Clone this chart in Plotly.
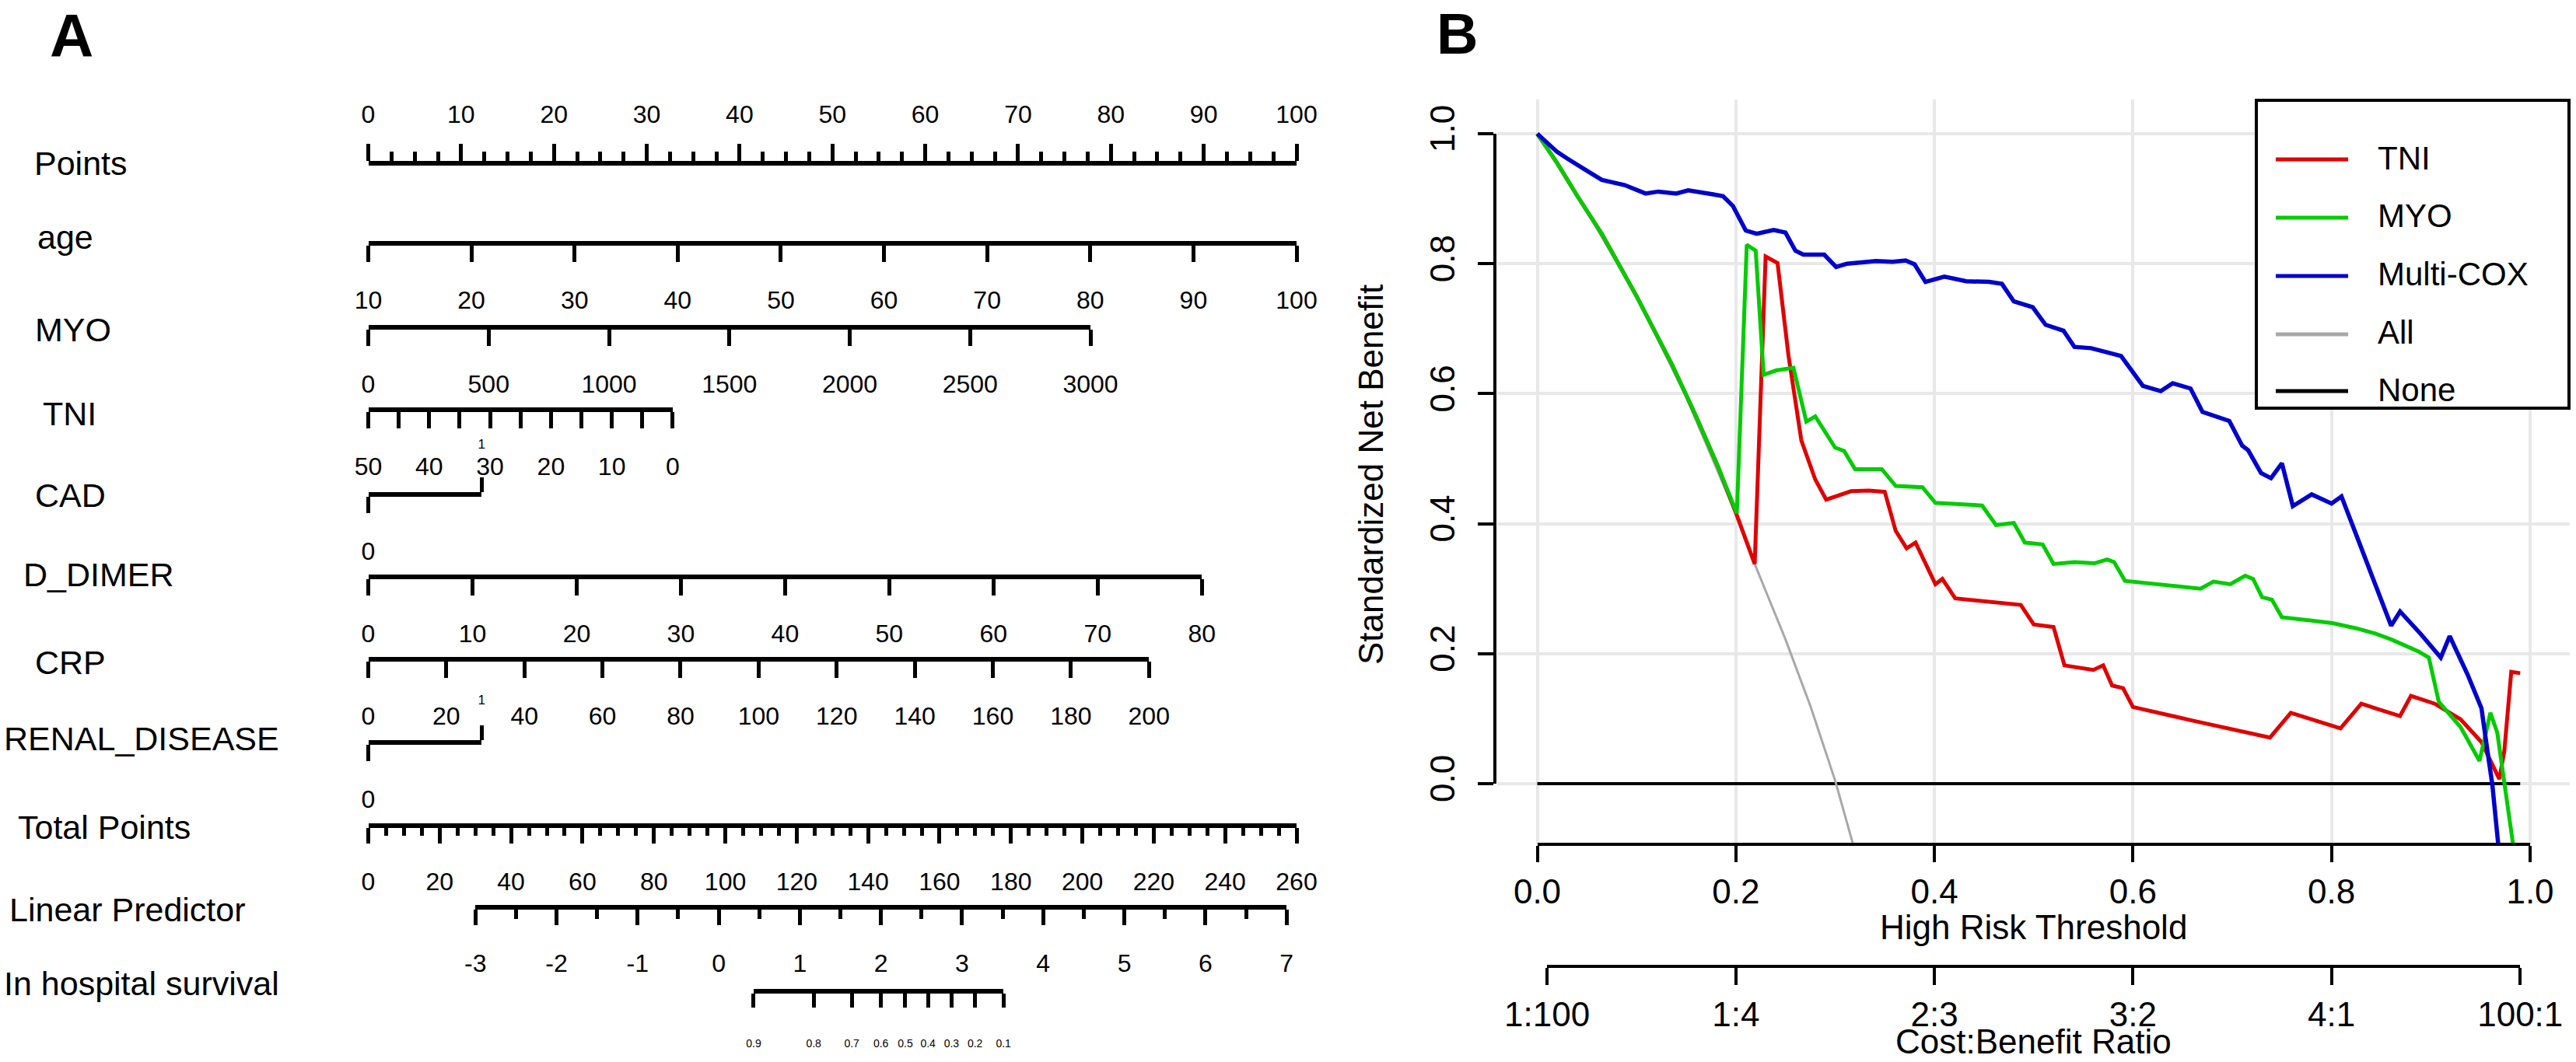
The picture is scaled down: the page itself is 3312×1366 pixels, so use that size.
#%% Nomogram (A) and standardized decision curves (B) for in hospital survival
import plotly.graph_objects as go

W, H = 3312, 1366
FONT = 'Liberation Sans, Arial, sans-serif'

#%% Panel A data: nomogram scales
points_ticks = [0, 10, 20, 30, 40, 50, 60, 70, 80, 90, 100]
age_ticks = [10, 20, 30, 40, 50, 60, 70, 80, 90, 100]
myo_ticks = [0, 500, 1000, 1500, 2000, 2500, 3000]
tni_ticks = [50, 40, 30, 20, 10, 0]
cad_levels = [0, 1]
ddimer_ticks = [0, 10, 20, 30, 40, 50, 60, 70, 80]
crp_ticks = [0, 20, 40, 60, 80, 100, 120, 140, 160, 180, 200]
renal_levels = [0, 1]
total_ticks = [0, 20, 40, 60, 80, 100, 120, 140, 160, 180, 200, 220, 240, 260]
lp_ticks = [-3, -2, -1, 0, 1, 2, 3, 4, 5, 6, 7]
surv_labels = ['0.9', '0.8', '0.7', '0.6', '0.5', '0.4', '0.3', '0.2', '0.1']
surv_at_lp = [0.43, 1.17, 1.64, 2.0, 2.3, 2.58, 2.87, 3.16, 3.51]

# points reached at the top end of each predictor scale
age_pts, myo_pts, tni_pts, cad_pts = 100, 77.8, 32.8, 12.2
ddimer_pts, crp_pts, renal_pts = 89.8, 84.1, 12.2
lp_at_total = [30, 257.2]   # total points where linear predictor = -3 and 7

#%% Panel B data: decision curves
thr_tni = [0, 0.02, 0.04, 0.065, 0.1, 0.136, 0.16, 0.182, 0.201, 0.219,
           0.230, 0.242, 0.253, 0.266, 0.280, 0.291, 0.316, 0.334, 0.350, 0.361,
           0.372, 0.381, 0.401, 0.408, 0.421, 0.451, 0.487, 0.500, 0.520, 0.531,
           0.560, 0.570, 0.579, 0.590, 0.600, 0.660, 0.738, 0.759, 0.809, 0.830,
           0.869, 0.880, 0.904, 0.930, 0.951, 0.969, 0.974, 0.981, 0.990]
nb_tni = [1.0, 0.955, 0.905, 0.846, 0.75, 0.644, 0.565, 0.488, 0.413, 0.338,
          0.811, 0.801, 0.659, 0.528, 0.468, 0.437, 0.450, 0.451, 0.449, 0.389,
          0.362, 0.371, 0.307, 0.315, 0.285, 0.281, 0.275, 0.245, 0.241, 0.182,
          0.175, 0.182, 0.151, 0.147, 0.118, 0.097, 0.071, 0.109, 0.085, 0.123,
          0.104, 0.135, 0.123, 0.099, 0.064, 0.007, 0.050, 0.172, 0.170]

thr_myo = [0, 0.02, 0.04, 0.065, 0.1, 0.136, 0.16, 0.182, 0.201, 0.211,
           0.220, 0.228, 0.241, 0.258, 0.271, 0.280, 0.300, 0.309, 0.320, 0.347,
           0.361, 0.388, 0.401, 0.448, 0.462, 0.480, 0.491, 0.509, 0.520, 0.541,
           0.561, 0.574, 0.581, 0.592, 0.668, 0.681, 0.698, 0.713, 0.721, 0.730,
           0.740, 0.750, 0.780, 0.801, 0.825, 0.844, 0.860, 0.873, 0.888, 0.898,
           0.908, 0.930, 0.949, 0.960, 0.967, 0.974, 0.983]
nb_myo = [1.0, 0.955, 0.905, 0.846, 0.75, 0.644, 0.565, 0.488, 0.416, 0.829,
          0.820, 0.629, 0.636, 0.640, 0.557, 0.565, 0.517, 0.512, 0.484, 0.484,
          0.458, 0.456, 0.432, 0.428, 0.398, 0.401, 0.371, 0.368, 0.338, 0.341,
          0.339, 0.345, 0.341, 0.312, 0.300, 0.311, 0.307, 0.320, 0.315, 0.287,
          0.283, 0.256, 0.251, 0.247, 0.239, 0.231, 0.222, 0.213, 0.203, 0.194,
          0.126, 0.087, 0.035, 0.109, 0.078, 0.002, -0.095]

thr_cox = [0, 0.01, 0.02, 0.03, 0.04, 0.05, 0.065, 0.088, 0.109, 0.122,
           0.140, 0.152, 0.176, 0.187, 0.197, 0.210, 0.221, 0.238, 0.250, 0.260,
           0.268, 0.289, 0.301, 0.312, 0.341, 0.358, 0.371, 0.380, 0.391, 0.410,
           0.432, 0.455, 0.468, 0.480, 0.499, 0.512, 0.530, 0.541, 0.558, 0.588,
           0.610, 0.628, 0.640, 0.658, 0.670, 0.697, 0.710, 0.716, 0.729, 0.739,
           0.750, 0.761, 0.780, 0.800, 0.810, 0.860, 0.869, 0.890, 0.910, 0.919,
           0.937, 0.951, 0.958, 0.962, 0.968]
nb_cox = [1.0, 0.985, 0.972, 0.962, 0.952, 0.943, 0.929, 0.921, 0.908, 0.911,
          0.908, 0.913, 0.907, 0.904, 0.889, 0.851, 0.846, 0.852, 0.848, 0.820,
          0.814, 0.814, 0.795, 0.800, 0.804, 0.803, 0.805, 0.799, 0.772, 0.780,
          0.773, 0.772, 0.769, 0.742, 0.733, 0.706, 0.697, 0.672, 0.670, 0.658,
          0.612, 0.604, 0.616, 0.608, 0.572, 0.558, 0.520, 0.513, 0.478, 0.470,
          0.493, 0.427, 0.445, 0.431, 0.442, 0.243, 0.265, 0.230, 0.194, 0.227,
          0.168, 0.116, 0.040, -0.002, -0.095]

thr_all = [0, 0.05, 0.1, 0.15, 0.2, 0.219, 0.25, 0.275, 0.30, 0.318]
nb_all = [1.0, 0.88, 0.75, 0.595, 0.415, 0.338, 0.222, 0.12, 0.005, -0.093]

thr_none = [0, 0.99]
nb_none = [0, 0]

grid_ticks = [0, 0.2, 0.4, 0.6, 0.8, 1.0]
cb_thresholds = [0.0099, 0.2, 0.4, 0.6, 0.8, 0.99]
cb_labels = ['1:100', '1:4', '2:3', '3:2', '4:1', '100:1']

curve_names = ['TNI', 'MYO', 'Multi-COX', 'All', 'None']
curve_colors = ['#e00000', '#00cc00', '#0000cd', '#a8a8a8', '#000000']

#%% helpers
fig = go.Figure()


def row_y(py):
    return 1 - py / H


PX0, PX1 = 473.5, 1667   # pixel span of the 0..100 points scale


def pts_x(p):
    return (PX0 + (PX1 - PX0) * p / 100) / W


def tot_x(tp):
    return pts_x(tp * 100 / total_ticks[-1])


def lp_x(lp):
    t0, t1 = lp_at_total
    return tot_x(t0 + (lp - lp_ticks[0]) * (t1 - t0) / (lp_ticks[-1] - lp_ticks[0]))


def label(text, px, py, size, xanchor='center', angle=0):
    fig.add_annotation(text=text, x=px / W, y=row_y(py), xref='paper', yref='paper',
                       xanchor=xanchor, yanchor='middle', showarrow=False, textangle=angle,
                       font=dict(family=FONT, size=size, color='black'))


axis_no = [4]


def add_scale(vals, rng, dom, line_py, ticktext=None, **kw):
    k = axis_no[0]
    axis_no[0] += 1
    fig.add_trace(go.Scatter(x=vals, y=[0.5] * len(vals), mode='markers',
                             marker=dict(opacity=0), xaxis=f'x{k}', yaxis='y3',
                             hoverinfo='skip', showlegend=False))
    ax = dict(domain=dom, range=rng, anchor='free', position=row_y(line_py),
              side='bottom', showline=True, linecolor='black', linewidth=6,
              ticks='outside', ticklen=21, tickwidth=5, tickcolor='black',
              tickmode='array', tickvals=vals,
              ticktext=ticktext if ticktext else [str(v) for v in vals],
              showgrid=False, zeroline=False, ticklabelstandoff=22, automargin=False,
              tickfont=dict(family=FONT, size=32, color='black'))
    ax.update(kw)
    fig.update_layout(**{f'xaxis{k}': ax})


#%% Panel A
minor_style = dict(ticks='outside', tickwidth=5, tickcolor='black')
add_scale(points_ticks, [0, 100], [pts_x(0), pts_x(100)], 210, side='top', ticklen=22,
          ticklabelstandoff=14, minor=dict(dtick=2.5, tick0=0, ticklen=12, **minor_style))
add_scale(age_ticks, [10, 100], [pts_x(0), pts_x(age_pts)], 313)
add_scale(myo_ticks, [0, 3000], [pts_x(0), pts_x(myo_pts)], 421)
add_scale(tni_ticks, [50, 0], [pts_x(0), pts_x(tni_pts)], 527,
          minor=dict(dtick=5, tick0=0, ticklen=21, **minor_style))
add_scale(cad_levels[:1], [0, 1], [pts_x(0), pts_x(cad_pts)], 636)
add_scale(cad_levels[1:], [0, 1], [pts_x(0), pts_x(cad_pts)], 636, side='top', ticklen=19,
          ticklabelstandoff=30, tickfont=dict(family=FONT, size=17, color='black'))
add_scale(ddimer_ticks, [0, 80], [pts_x(0), pts_x(ddimer_pts)], 742)
add_scale(crp_ticks, [0, 200], [pts_x(0), pts_x(crp_pts)], 848)
add_scale(renal_levels[:1], [0, 1], [pts_x(0), pts_x(renal_pts)], 955)
add_scale(renal_levels[1:], [0, 1], [pts_x(0), pts_x(renal_pts)], 955, side='top', ticklen=19,
          ticklabelstandoff=20, tickfont=dict(family=FONT, size=17, color='black'))
add_scale(total_ticks, [0, 260], [tot_x(0), tot_x(260)], 1062, ticklen=20,
          minor=dict(dtick=5, tick0=0, ticklen=10, **minor_style))
add_scale(lp_ticks, [-3, 7], [lp_x(-3), lp_x(7)], 1167, ticklen=20,
          minor=dict(dtick=0.5, tick0=-3, ticklen=12, **minor_style))
add_scale(surv_at_lp, [surv_at_lp[0], surv_at_lp[-1]], [lp_x(surv_at_lp[0]), lp_x(surv_at_lp[-1])],
          1275, ticktext=surv_labels, ticklen=18, ticklabelstandoff=34,
          tickfont=dict(family=FONT, size=14, color='black'))

row_names = ['Points', 'age', 'MYO', 'TNI', 'CAD', 'D_DIMER', 'CRP', 'RENAL_DISEASE',
             'Total Points', 'Linear Predictor', 'In hospital survival']
name_x = [42, 46, 43, 53, 43, 28, 43, 3, 21, 10, 3]
name_y = [210, 305, 424, 532, 637, 739, 852, 950, 1064, 1170, 1265]
for txt, nx, ny in zip(row_names, name_x, name_y):
    label(txt, nx, ny, 43, xanchor='left')

#%% Panel B
T0, T1 = 1976.5, 3253      # pixel x of threshold 0 and 1
V0, V1 = 1008, 172         # pixel y of net benefit 0 and 1
BOX = [1925.4, 3304, 128, 1086]   # plot region left, right, top, bottom


def t_px(t):
    return T0 + (T1 - T0) * t


for name, color, xs, ys, lw in [
        ('None', curve_colors[4], thr_none, nb_none, 4),
        ('All', curve_colors[3], thr_all, nb_all, 3),
        ('TNI', curve_colors[0], thr_tni, nb_tni, 5),
        ('MYO', curve_colors[1], thr_myo, nb_myo, 5),
        ('Multi-COX', curve_colors[2], thr_cox, nb_cox, 5.5)]:
    fig.add_trace(go.Scatter(x=xs, y=ys, mode='lines', name=name,
                             line=dict(color=color, width=lw), showlegend=False,
                             xaxis='x', yaxis='y'))

fig.add_trace(go.Scatter(x=grid_ticks, y=grid_ticks, mode='markers', marker=dict(opacity=0),
                         xaxis='x2', yaxis='y2', hoverinfo='skip', showlegend=False))
fig.add_trace(go.Scatter(x=cb_thresholds, y=[0] * len(cb_thresholds), mode='markers',
                         marker=dict(opacity=0), xaxis='x3', yaxis='y2',
                         hoverinfo='skip', showlegend=False))

axis_font = dict(family=FONT, size=44, color='black')
grid = dict(showgrid=True, gridcolor='#e8e8e8', gridwidth=4, showline=False,
            zeroline=False, ticks='', showticklabels=False, automargin=False,
            tickmode='array', tickvals=grid_ticks)
fig.update_layout(
    xaxis=dict(domain=[BOX[0] / W, BOX[1] / W],
               range=[(BOX[0] - T0) / (T1 - T0), (BOX[1] - T0) / (T1 - T0)], **grid),
    yaxis=dict(domain=[row_y(BOX[3]), row_y(BOX[2])],
               range=[(V0 - BOX[3]) / (V0 - V1), (V0 - BOX[2]) / (V0 - V1)], **grid),
    xaxis2=dict(domain=[T0 / W, T1 / W], range=[0, 1], anchor='free', position=row_y(1086),
                side='bottom', showline=True, linecolor='black', linewidth=4,
                ticks='outside', ticklen=21, tickwidth=4, tickcolor='black',
                tickmode='array', tickvals=grid_ticks, tickformat='.1f', automargin=False,
                showgrid=False, zeroline=False, tickfont=axis_font, ticklabelstandoff=0),
    xaxis3=dict(domain=[t_px(cb_thresholds[0]) / W, t_px(cb_thresholds[-1]) / W],
                range=[cb_thresholds[0], cb_thresholds[-1]], anchor='free',
                position=row_y(1243), side='bottom', showline=True, linecolor='black',
                linewidth=4, ticks='outside', ticklen=22, tickwidth=4, tickcolor='black',
                tickmode='array', tickvals=cb_thresholds, ticktext=cb_labels, automargin=False,
                showgrid=False, zeroline=False, tickfont=axis_font, ticklabelstandoff=0),
    yaxis2=dict(domain=[row_y(V0), row_y(V1)], range=[0, 1], anchor='free',
                position=1922 / W, side='left', showline=True, linecolor='black',
                linewidth=4, ticks='outside', ticklen=20, tickwidth=4, tickcolor='black',
                tickmode='array', tickvals=grid_ticks, tickformat='.1f', tickangle=-90,
                showgrid=False, zeroline=False, tickfont=axis_font, ticklabelstandoff=12,
                automargin=False),
    yaxis3=dict(domain=[0, 1], range=[0, 1], visible=False, anchor='free', position=0,
                automargin=False),
)

# axis titles
label('High Risk Threshold', t_px(0.5), 1192, 44)
label('Cost:Benefit Ratio', t_px(0.5), 1339, 44)
label('Standardized Net Benefit', 1762, 611, 44, angle=-90)

# legend box
LEG = [2901, 3303, 129, 525]
fig.add_shape(type='rect', xref='paper', yref='paper', x0=LEG[0] / W, x1=LEG[1] / W,
              y0=row_y(LEG[3]), y1=row_y(LEG[2]), line=dict(color='black', width=4),
              fillcolor='white', layer='above')
leg_y = [205, 280, 355, 430, 503]
for name, color, ly in zip(curve_names, curve_colors, leg_y):
    fig.add_shape(type='line', xref='paper', yref='paper', x0=2926 / W, x1=3019 / W,
                  y0=row_y(ly), y1=row_y(ly), line=dict(color=color, width=5), layer='above')
    label(name, 3055, ly - 2, 42, xanchor='left')

# panel letters
label('<b>A</b>', 92, 46, 78)
label('<b>B</b>', 1873, 44, 74)

fig.update_layout(width=W, height=H, margin=dict(l=0, r=0, t=0, b=0, autoexpand=False),
                  paper_bgcolor='white', plot_bgcolor='rgba(0,0,0,0)', showlegend=False)

fig.write_html("out.html", config={'displayModeBar': False},
               post_script="document.body.style.margin = '0px';")
